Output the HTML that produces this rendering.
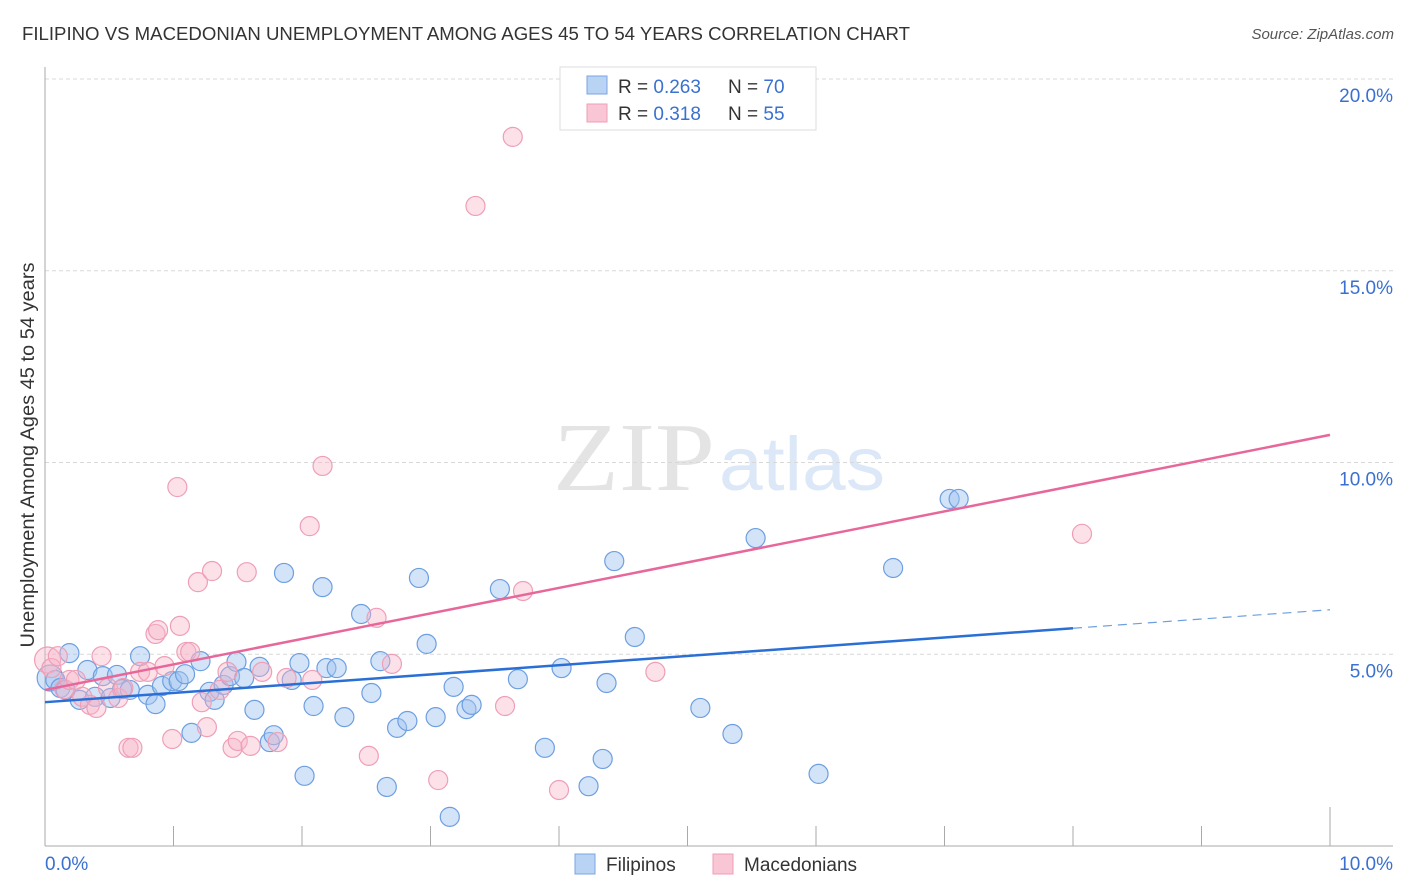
<!DOCTYPE html>
<html><head><meta charset="utf-8"><style>
html,body{margin:0;padding:0;background:#fff;}
svg{display:block;font-family:"Liberation Sans",sans-serif;}
</style></head><body>
<svg id="chart" width="1406" height="892" viewBox="0 0 1406 892">
<text x="22" y="40" font-size="18" fill="#333" textLength="888" lengthAdjust="spacingAndGlyphs">FILIPINO VS MACEDONIAN UNEMPLOYMENT AMONG AGES 45 TO 54 YEARS CORRELATION CHART</text>
<text x="1394" y="39" font-size="15" fill="#555" font-style="italic" text-anchor="end">Source: ZipAtlas.com</text>
<g>
<text x="553" y="490" font-family="Liberation Serif,serif" font-size="98" fill="#e4e4e4" textLength="162" lengthAdjust="spacingAndGlyphs">ZIP</text>
<text x="719" y="490" font-size="76" fill="#dce8f7" textLength="166" lengthAdjust="spacingAndGlyphs">atlas</text>
</g>
<g id="grid"></g>
<g id="axes"></g>
<g id="pts"></g>
<g id="lines"></g>
<text transform="translate(34,455) rotate(-90)" font-size="19" fill="#333" text-anchor="middle" textLength="385" lengthAdjust="spacingAndGlyphs">Unemployment Among Ages 45 to 54 years</text>
<g>
<rect x="560" y="67" width="256" height="63" fill="#fff" stroke="#ddd"/>
<rect x="587" y="76" width="20" height="18" fill="#b9d3f5" stroke="#7aa6e2"/>
<rect x="587" y="104" width="20" height="18" fill="#f9c6d5" stroke="#ee9fb7"/>
<text x="618" y="93" font-size="19" fill="#333">R = <tspan fill="#3a70d0">0.263</tspan>  <tspan x="728">N = </tspan><tspan fill="#3a70d0">70</tspan></text>
<text x="618" y="120" font-size="19" fill="#333">R =  <tspan fill="#3a70d0">0.318</tspan>  <tspan x="728">N = </tspan><tspan fill="#3a70d0">55</tspan></text>
</g>
<g>
<rect x="575" y="854" width="20" height="20" fill="#b9d3f5" stroke="#7aa6e2"/>
<text x="606" y="871" font-size="19" fill="#333">Filipinos</text>
<rect x="713" y="854" width="20" height="20" fill="#f9c6d5" stroke="#ee9fb7"/>
<text x="744" y="871" font-size="19" fill="#333">Macedonians</text>
</g>
</svg>
<script>
const yTicks=[5,10,15,20];
const yTickLabels=["5.0%","10.0%","15.0%","20.0%"];
const xTickLabels=["0.0%","10.0%"];
const blueX=[0.04,0.08,0.12,0.19,0.16,0.27,0.33,0.39,0.45,0.51,0.56,0.60,0.66,0.74,0.80,0.86,0.91,0.99,1.04,1.09,1.14,1.21,1.28,1.32,1.39,1.44,1.49,1.55,1.63,1.67,1.75,1.78,1.86,1.92,1.98,2.02,2.09,2.16,2.19,2.27,2.33,2.46,2.54,2.61,2.66,2.74,2.82,2.91,2.97,3.04,3.15,3.18,3.28,3.32,3.54,3.68,3.89,4.02,4.23,4.34,4.37,4.43,4.59,5.10,5.35,5.53,6.02,6.60,7.04,7.11];
const blueY=[4.38,4.33,4.12,5.03,4.07,3.81,4.59,3.89,4.43,3.86,4.46,4.09,4.07,4.95,3.94,3.70,4.17,4.30,4.30,4.48,2.95,4.82,4.02,3.81,4.20,4.43,4.80,4.38,3.55,4.67,2.71,2.89,7.12,4.33,4.77,1.83,3.65,6.75,4.64,4.64,3.36,6.05,3.99,4.82,1.54,3.08,3.26,6.99,5.27,3.36,0.76,4.15,3.57,3.68,6.70,4.35,2.56,4.64,1.56,2.27,4.25,7.43,5.45,3.60,2.92,8.03,1.88,7.25,9.05,9.05];
const pinkX=[0.02,0.05,0.10,0.15,0.19,0.24,0.29,0.35,0.40,0.44,0.49,0.57,0.61,0.65,0.68,0.74,0.80,0.86,0.88,0.93,0.99,1.03,1.05,1.10,1.13,1.19,1.22,1.26,1.30,1.36,1.42,1.46,1.50,1.57,1.60,1.69,1.81,1.88,2.06,2.08,2.16,2.52,2.58,2.70,3.06,3.35,3.58,3.64,3.72,4.00,4.75,8.07];
const pinkY=[4.85,4.64,4.95,4.09,4.33,4.33,3.89,3.68,3.60,4.95,4.12,3.86,4.12,2.56,2.56,4.54,4.54,5.53,5.63,4.69,2.79,9.36,5.74,5.06,5.06,6.88,3.75,3.10,7.17,4.07,4.54,2.56,2.74,7.14,2.61,4.54,2.71,4.38,8.34,4.33,9.91,2.35,5.95,4.75,1.72,16.69,3.65,18.49,6.65,1.46,4.54,8.14];
const blueFit=[3.75,0.241]; // intercept, slope
const pinkFit=[4.07,0.665];
const NS="http://www.w3.org/2000/svg";
const X0=45,X1=1330,Y0=846,Y20=79;
const sx=v=>X0+(X1-X0)*v/10;
const sy=v=>Y0-(Y0-Y20)*v/20;
function mk(tag,attrs,parent){const e=document.createElementNS(NS,tag);for(const k in attrs)e.setAttribute(k,attrs[k]);parent.appendChild(e);return e;}
const grid=document.getElementById('grid'),axes=document.getElementById('axes'),pts=document.getElementById('pts'),lines=document.getElementById('lines');
yTicks.forEach((t,i)=>{
 const l=mk('line',{x1:X0,x2:1393,y1:sy(t),y2:sy(t),stroke:'#d8d8d8','stroke-dasharray':'4,3'},grid);
 
 
 const tx=mk('text',{x:1393,y:sy(t)+23,'font-size':19,fill:'#3a70d0','text-anchor':'end'},axes);
 tx.textContent=yTickLabels[i];
 
 
});
const ya=mk('line',{x1:X0,x2:X0,y1:67,y2:Y0,stroke:'#aaa'},axes);


const xa=mk('line',{x1:X0,x2:1393,y1:Y0,y2:Y0,stroke:'#aaa'},axes);


for(let i=1;i<=10;i++){
 const t=mk('line',{x1:sx(i),x2:sx(i),y1:i==10?807:826,y2:Y0,stroke:'#aaa'},axes);
 
 
}
[[0,xTickLabels[0],'start',45],[10,xTickLabels[1],'end',1393]].forEach(a=>{
 const t=mk('text',{x:a[3],y:870,'font-size':19,fill:'#3a70d0','text-anchor':a[2]},axes);
 t.textContent=a[1];
 
 
});
function dots(xs,ys,fill,stroke,name){
 xs.forEach((x,i)=>{
  const c=mk('circle',{cx:sx(x),cy:sy(ys[i]),r:i==0?13:9.5,fill:fill,stroke:stroke,'stroke-width':1.2},pts);
  
  
 });
}
dots(blueX,blueY,'rgba(160,196,240,0.45)','#6d9fe0','filipino-point');
dots(pinkX,pinkY,'rgba(248,180,200,0.4)','#ee9fb7','macedonian-point');
const bl=mk('line',{x1:sx(0),y1:sy(blueFit[0]),x2:sx(8),y2:sy(blueFit[0]+8*blueFit[1]),stroke:'#2a6fd6','stroke-width':2.5},lines);


const bd=mk('line',{x1:sx(8),y1:sy(blueFit[0]+8*blueFit[1]),x2:sx(10),y2:sy(blueFit[0]+10*blueFit[1]),stroke:'#6d9fe0','stroke-width':1.2,'stroke-dasharray':'9,6'},lines);


const pl=mk('line',{x1:sx(0),y1:sy(pinkFit[0]),x2:sx(10),y2:sy(pinkFit[0]+10*pinkFit[1]),stroke:'#e8679a','stroke-width':2.5},lines);


</script>
</body></html>
